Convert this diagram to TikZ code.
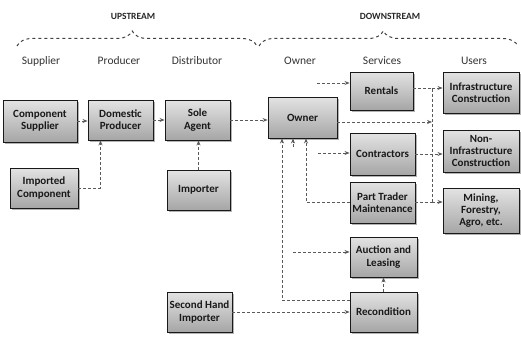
\documentclass[tikz,border=0pt]{standalone}
\usepackage{fontspec}
\setmainfont{Carlito}
\usetikzlibrary{arrows.meta,shadows,decorations.pathreplacing,calc}
\begin{document}
\begin{tikzpicture}[x=1pt,y=-1pt,
 box/.style={draw=black!90, line width=0.9pt, top color=gray!22, bottom color=gray!70,
   drop shadow={opacity=0.6, shadow xshift=1.5pt, shadow yshift=-1.5pt},
   font=\bfseries\fontsize{11}{12.2}\selectfont, align=center, inner sep=1pt, text=black!90,
   minimum width=65pt, minimum height=40pt},
 conn/.style={densely dashed, draw=black!65, line width=0.7pt},
 arr/.style={conn, -{Stealth[length=5pt,width=4pt]}},
 col/.style={font=\fontsize{11.5}{13}\selectfont, text=black!80},
 hdr/.style={font=\bfseries\fontsize{9.5}{11}\selectfont, text=black!85},
 brc/.style={dashed, draw=black!75, line width=1pt, decorate, decoration={brace, amplitude=15pt, aspect=0.48}}]
\useasboundingbox (0,0) rectangle (521,337);

% headers
\node[hdr] (up) at (133,16) {UPSTREAM};
\node[hdr] (down) at (390,16) {DOWNSTREAM};
\coordinate (ub1) at (17,46); \coordinate (ub2) at (257,46);
\coordinate (db1) at (259,46); \coordinate (db2) at (518,46);
\draw[brc] (ub1) -- (ub2);
\draw[brc] (db1) -- (db2);

% column labels
\node[col] (lsup) at (41,61) {Supplier};
\node[col] (lpro) at (119,61) {Producer};
\node[col] (ldis) at (197,61) {Distributor};
\node[col] (lown) at (300,61) {Owner};
\node[col] (lser) at (382,61) {Services};
\node[col] (luse) at (474,61) {Users};

% boxes
\node[box, minimum width=74pt, minimum height=42pt] (cs) at (40,121) {Component\\Supplier};
\node[box] (dp) at (120.5,120) {Domestic\\Producer};
\node[box] (sa) at (197.5,120) {Sole\\Agent};
\node[box, minimum width=68pt] (ic) at (44,188) {Imported\\Component};
\node[box, minimum width=63pt] (im) at (198.5,190) {Importer};
\node[box, minimum width=69pt, minimum height=41pt] (ow) at (302.5,117.5) {Owner};
\node[box, minimum width=63pt, minimum height=38pt] (re) at (381.5,91) {Rentals};
\node[box, minimum width=76pt, minimum height=41pt] (inf) at (481,92.5) {Infrastructure\\Construction};
\node[box, minimum height=42pt] (co) at (382.5,154) {Contractors};
\node[box, minimum width=76pt, minimum height=42pt] (ni) at (481,151) {Non-\\Infrastructure\\Construction};
\node[box, minimum height=41pt] (pt) at (382.5,202.5) {Part Trader\\Maintenance};
\node[box, minimum width=76pt, minimum height=45pt] (mi) at (481,210.5) {Mining,\\Forestry,\\Agro, etc.};
\node[box, minimum width=67pt] (au) at (383.5,257) {Auction and\\Leasing};
\node[box, minimum width=67pt] (rc) at (383.5,312) {Recondition};
\node[box] (sh) at (199.5,312) {Second Hand\\Importer};

% junction coordinates
\coordinate (vt) at (432,88);
\coordinate (vb) at (432,202);
\coordinate (r0) at (317,83);
\coordinate (c0) at (318,153);
\coordinate (ox) at (432,122);
\coordinate (a0) at (293,252);
\coordinate (s0) at (293,147);

% upstream connectors
\draw[arr] (cs.east) -- (dp.west |- cs.east);
\draw[arr] (dp.east) -- (sa.west |- dp.east);
\draw[arr] (ic.east) -| ([xshift=-20pt]dp.south);
\draw[arr] (im.north) -- (im.north |- sa.south);
\draw[arr] (sa.east) -- (sa.east -| ow.west);

% downstream connectors
\draw[arr] (r0) -- (r0 -| re.west);
\draw[arr] (c0) -- (c0 -| co.west);
\draw[arr] (ow.east |- ox) -- (ox);
\draw[conn] (re.east |- vt) -- (vt) -- (vb);
\draw[arr] (vt) -- (vt -| inf.west);
\draw[arr] (co.east) -- (co.east -| ni.west);
\draw[conn] (pt.east |- vb) -- (vb);
\draw[arr] (vb) -- (vb -| mi.west);
\draw[arr] (pt.west |- vb) -| ($(ow.south -| 306,0)$);
\draw[arr] (a0) -- (a0 -| au.west);
\draw[arr] (s0) -- (s0 |- ow.south);
\draw[arr] (rc.west |- 0,300) -| ($(ow.south -| 282,0)$);
\draw[arr] (rc.north) -- (au.south);
\draw[arr] (sh.east) -- (rc.west |- sh.east);
\end{tikzpicture}
\end{document}
